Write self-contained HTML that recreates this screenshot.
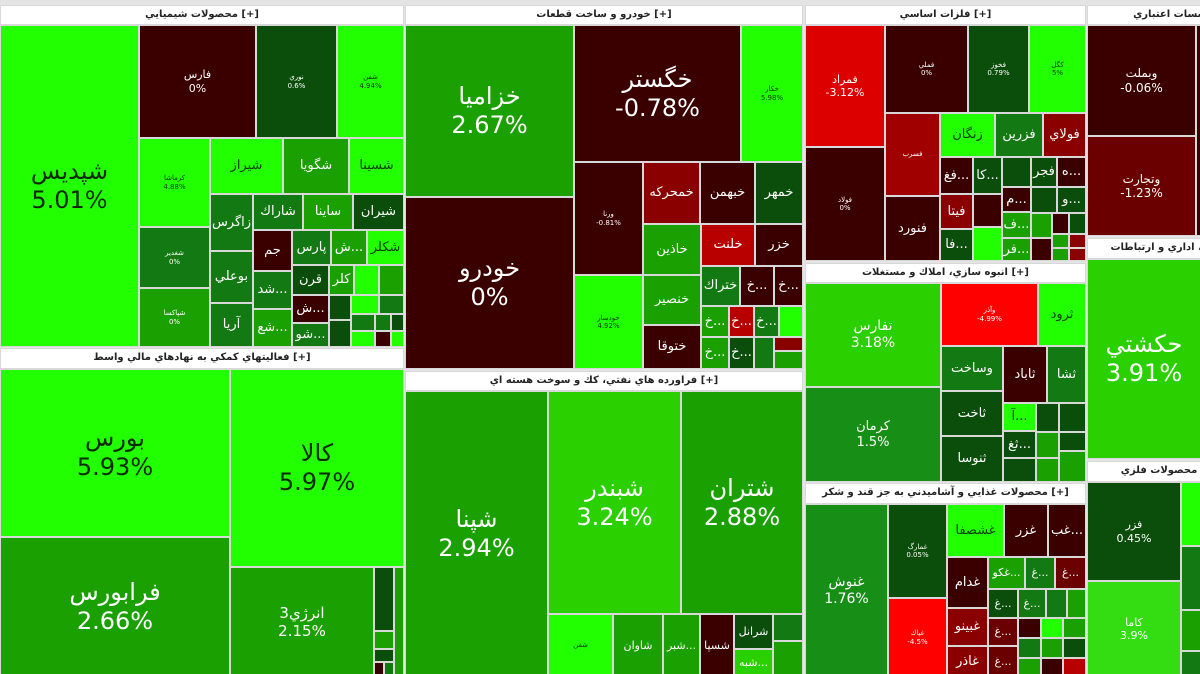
<!DOCTYPE html>
<html><head><meta charset="utf-8"><style>
html,body{margin:0;width:1200px;height:674px;overflow:hidden}
body{background:#e4e4e4;position:relative;font-family:"DejaVu Sans","Liberation Sans",sans-serif}
#w{position:absolute;left:0;top:0;width:1200px;height:674px;overflow:hidden}
.c{position:absolute;box-sizing:border-box;border:1px solid #d8d8d8;display:flex;flex-direction:column;align-items:center;justify-content:center;text-align:center;color:#fff;overflow:hidden;line-height:1.2;font-size:13px;white-space:nowrap}
.h{position:absolute;box-sizing:border-box;background:#fff;border:1px solid #d8d8d8;font-size:10px;color:#222;text-align:center;line-height:18px;overflow:hidden;white-space:nowrap;font-weight:bold}
.g1{background:#22ff00;color:#0b3a00}.g2{background:#2bd000}.g3{background:#1aa000}.g4{background:#137a13}.g5{background:#0b4d0b}
.m{background:#3a0000}.r1{background:#8a0000}.r2{background:#b80000}.r3{background:#f00000}.r4{background:#6a0000}
.L{font-size:24px}.S{font-size:7px}.M{font-size:11px}
</style></head><body><div id="w">
<!-- chemicals -->
<div class="h" style="left:0;top:5px;width:404px;height:20px">محصولات شيميايي [+]</div>
<div class="c g1 L" style="left:0;top:25px;width:139px;height:322px;color:#0b2a00">شپديس<br>5.01%</div>
<div class="c m M" style="left:139px;top:25px;width:117px;height:113px">فارس<br>0%</div>
<div class="c g5 S" style="left:256px;top:25px;width:81px;height:113px">نوري<br>0.6%</div>
<div class="c g1 S" style="left:337px;top:25px;width:67px;height:113px">شفن<br>4.94%</div>
<div class="c g1 S" style="left:139px;top:138px;width:71px;height:89px">كرماشا<br>4.88%</div>
<div class="c g1" style="left:210px;top:138px;width:73px;height:56px">شيراز</div>
<div class="c g3" style="left:283px;top:138px;width:66px;height:56px">شگويا</div>
<div class="c g1" style="left:349px;top:138px;width:55px;height:56px">شسينا</div>
<div class="c g4" style="left:210px;top:194px;width:43px;height:57px">زاگرس</div>
<div class="c g4" style="left:210px;top:251px;width:43px;height:52px">بوعلي</div>
<div class="c g4" style="left:210px;top:303px;width:43px;height:44px">آريا</div>
<div class="c g4" style="left:253px;top:194px;width:50px;height:36px">شاراك</div>
<div class="c g3" style="left:303px;top:194px;width:50px;height:36px">ساينا</div>
<div class="c g5" style="left:353px;top:194px;width:51px;height:36px">شيران</div>
<div class="c m" style="left:253px;top:230px;width:39px;height:41px">جم</div>
<div class="c g4" style="left:292px;top:230px;width:39px;height:35px">پارس</div>
<div class="c g3" style="left:331px;top:230px;width:36px;height:35px">ش...</div>
<div class="c g1" style="left:367px;top:230px;width:37px;height:35px">شكلر</div>
<div class="c g4" style="left:253px;top:271px;width:39px;height:38px">شد...</div>
<div class="c g3" style="left:253px;top:309px;width:39px;height:38px">شع...</div>
<div class="c g5" style="left:292px;top:265px;width:37px;height:30px">قرن</div>
<div class="c g3" style="left:329px;top:265px;width:25px;height:30px">كلر</div>
<div class="c g1" style="left:354px;top:265px;width:25px;height:30px"></div>
<div class="c g3" style="left:379px;top:265px;width:25px;height:30px"></div>
<div class="c m" style="left:292px;top:295px;width:37px;height:28px">ش...</div>
<div class="c g4" style="left:292px;top:323px;width:37px;height:24px">شو...</div>
<div class="c g5" style="left:329px;top:295px;width:22px;height:25px"></div>
<div class="c g5" style="left:329px;top:320px;width:22px;height:27px"></div>
<div class="c g1" style="left:351px;top:295px;width:28px;height:19px"></div>
<div class="c g4" style="left:379px;top:295px;width:25px;height:19px"></div>
<div class="c g4" style="left:351px;top:314px;width:24px;height:17px"></div>
<div class="c g4" style="left:375px;top:314px;width:16px;height:17px"></div>
<div class="c g5" style="left:391px;top:314px;width:13px;height:17px"></div>
<div class="c g1" style="left:351px;top:331px;width:24px;height:16px"></div>
<div class="c m" style="left:375px;top:331px;width:16px;height:16px"></div>
<div class="c g1" style="left:391px;top:331px;width:13px;height:16px"></div>
<div class="c g4 S" style="left:139px;top:227px;width:71px;height:61px">شغدير<br>0%</div>
<div class="c g3 S" style="left:139px;top:288px;width:71px;height:59px">شپاكسا<br>0%</div>
<!-- financial -->
<div class="h" style="left:0;top:348px;width:404px;height:21px">فعاليتهاي كمكي به نهادهاي مالي واسط [+]</div>
<div class="c g1 L" style="left:0;top:369px;width:230px;height:168px;color:#0b2a00">بورس<br>5.93%</div>
<div class="c g1 L" style="left:230px;top:369px;width:174px;height:198px;color:#0b2a00">كالا<br>5.97%</div>
<div class="c g3 L" style="left:0;top:537px;width:230px;height:140px">فرابورس<br>2.66%</div>
<div class="c g3" style="left:230px;top:567px;width:144px;height:110px;font-size:15px">انرژي3<br>2.15%</div>
<div class="c g5" style="left:374px;top:567px;width:20px;height:64px"></div>
<div class="c g3" style="left:374px;top:631px;width:20px;height:18px"></div>
<div class="c g5" style="left:374px;top:649px;width:20px;height:13px"></div>
<div class="c m" style="left:374px;top:662px;width:10px;height:15px"></div>
<div class="c g4" style="left:384px;top:662px;width:10px;height:15px"></div>
<div class="c g3" style="left:394px;top:567px;width:10px;height:110px"></div>
<!-- auto -->
<div class="h" style="left:405px;top:5px;width:398px;height:20px">خودرو و ساخت قطعات [+]</div>
<div class="c g3 L" style="left:405px;top:25px;width:169px;height:172px">خزاميا<br>2.67%</div>
<div class="c m L" style="left:405px;top:197px;width:169px;height:172px">خودرو<br>0%</div>
<div class="c m L" style="left:574px;top:25px;width:167px;height:137px">خگستر<br>-0.78%</div>
<div class="c g1 S" style="left:741px;top:25px;width:62px;height:137px">خكار<br>5.98%</div>
<div class="c m S" style="left:574px;top:162px;width:69px;height:113px">ورنا<br>-0.81%</div>
<div class="c g1 S" style="left:574px;top:275px;width:69px;height:94px">خودسار<br>4.92%</div>
<div class="c r1" style="left:643px;top:162px;width:57px;height:62px">خمحركه</div>
<div class="c m" style="left:700px;top:162px;width:55px;height:62px">خبهمن</div>
<div class="c g5" style="left:755px;top:162px;width:48px;height:62px">خمهر</div>
<div class="c g3" style="left:643px;top:224px;width:58px;height:51px">خاذين</div>
<div class="c r2" style="left:701px;top:224px;width:54px;height:42px">خلنت</div>
<div class="c m" style="left:755px;top:224px;width:48px;height:42px">خزر</div>
<div class="c g3" style="left:643px;top:275px;width:58px;height:50px">خنصير</div>
<div class="c m" style="left:643px;top:325px;width:58px;height:44px">ختوقا</div>
<div class="c g4" style="left:701px;top:266px;width:39px;height:40px">ختراك</div>
<div class="c m" style="left:740px;top:266px;width:34px;height:40px">خ...</div>
<div class="c m" style="left:774px;top:266px;width:29px;height:40px">خ...</div>
<div class="c g3" style="left:701px;top:306px;width:28px;height:31px">خ...</div>
<div class="c r2" style="left:729px;top:306px;width:25px;height:31px">خ...</div>
<div class="c g4" style="left:754px;top:306px;width:25px;height:31px">خ...</div>
<div class="c g1" style="left:779px;top:306px;width:24px;height:31px"></div>
<div class="c g3" style="left:701px;top:337px;width:28px;height:32px">خ...</div>
<div class="c g5" style="left:729px;top:337px;width:25px;height:32px">خ...</div>
<div class="c g4" style="left:754px;top:337px;width:20px;height:32px"></div>
<div class="c r1" style="left:774px;top:337px;width:29px;height:14px"></div>
<div class="c g3" style="left:774px;top:351px;width:29px;height:18px"></div>
<!-- oil -->
<div class="h" style="left:405px;top:371px;width:398px;height:20px">فراورده هاي نفتي، كك و سوخت هسته اي [+]</div>
<div class="c g3 L" style="left:405px;top:391px;width:143px;height:286px">شپنا<br>2.94%</div>
<div class="c g2 L" style="left:548px;top:391px;width:133px;height:223px">شبندر<br>3.24%</div>
<div class="c g3 L" style="left:681px;top:391px;width:122px;height:223px">شتران<br>2.88%</div>
<div class="c g1 S" style="left:548px;top:614px;width:65px;height:63px">شفن</div>
<div class="c g3 M" style="left:613px;top:614px;width:50px;height:63px">شاوان</div>
<div class="c g3 M" style="left:663px;top:614px;width:37px;height:63px">شبر...</div>
<div class="c m M" style="left:700px;top:614px;width:34px;height:63px">شسپا</div>
<div class="c g5 M" style="left:734px;top:614px;width:39px;height:35px">شرانل</div>
<div class="c g2 M" style="left:734px;top:649px;width:39px;height:28px">شبه...</div>
<div class="c g4" style="left:773px;top:614px;width:30px;height:27px"></div>
<div class="c g3" style="left:773px;top:641px;width:30px;height:36px"></div>
<!-- metals -->
<div class="h" style="left:805px;top:5px;width:281px;height:20px">فلزات اساسي [+]</div>
<div class="c r3 M" style="left:805px;top:25px;width:80px;height:122px;background:#dd0000">فمراد<br>-3.12%</div>
<div class="c m S" style="left:805px;top:147px;width:80px;height:114px">فولاد<br>0%</div>
<div class="c m S" style="left:885px;top:25px;width:83px;height:88px">فملي<br>0%</div>
<div class="c g5 S" style="left:968px;top:25px;width:61px;height:88px">فخوز<br>0.79%</div>
<div class="c g1 S" style="left:1029px;top:25px;width:57px;height:88px">كگل<br>5%</div>
<div class="c r1 S" style="left:885px;top:113px;width:55px;height:83px;background:#a00000">فسرب</div>
<div class="c m" style="left:885px;top:196px;width:55px;height:65px">فنورد</div>
<div class="c g1" style="left:940px;top:113px;width:55px;height:44px">زنگان</div>
<div class="c g4" style="left:995px;top:113px;width:48px;height:44px">فزرين</div>
<div class="c r1" style="left:1043px;top:113px;width:43px;height:44px">فولاي</div>
<div class="c m" style="left:940px;top:157px;width:33px;height:37px">فغ...</div>
<div class="c g5" style="left:973px;top:157px;width:29px;height:37px">كا...</div>
<div class="c g5" style="left:1002px;top:157px;width:29px;height:30px"></div>
<div class="c g5" style="left:1031px;top:157px;width:26px;height:30px">فجر</div>
<div class="c m" style="left:1057px;top:157px;width:29px;height:30px">ه...</div>
<div class="c r1" style="left:940px;top:194px;width:33px;height:35px">فيتا</div>
<div class="c g5" style="left:940px;top:229px;width:33px;height:32px">فا...</div>
<div class="c m" style="left:973px;top:194px;width:29px;height:33px"></div>
<div class="c g1" style="left:973px;top:227px;width:29px;height:34px"></div>
<div class="c m" style="left:1002px;top:187px;width:29px;height:25px">م...</div>
<div class="c g5" style="left:1031px;top:187px;width:26px;height:26px"></div>
<div class="c g5" style="left:1057px;top:187px;width:29px;height:26px">و...</div>
<div class="c g3" style="left:1002px;top:212px;width:29px;height:26px">ف...</div>
<div class="c g3" style="left:1002px;top:238px;width:29px;height:23px">فر...</div>
<div class="c g3" style="left:1031px;top:213px;width:21px;height:25px"></div>
<div class="c m" style="left:1031px;top:238px;width:21px;height:23px"></div>
<div class="c m" style="left:1052px;top:213px;width:17px;height:21px"></div>
<div class="c g5" style="left:1069px;top:213px;width:17px;height:21px"></div>
<div class="c g3" style="left:1052px;top:234px;width:17px;height:14px"></div>
<div class="c r1" style="left:1069px;top:234px;width:17px;height:14px"></div>
<div class="c g3" style="left:1052px;top:248px;width:17px;height:13px"></div>
<div class="c r1" style="left:1069px;top:248px;width:17px;height:13px"></div>
<!-- real estate -->
<div class="h" style="left:805px;top:263px;width:281px;height:20px">انبوه سازي، املاك و مستغلات [+]</div>
<div class="c g2" style="left:805px;top:283px;width:136px;height:104px;font-size:14px">تفارس<br>3.18%</div>
<div class="c g4" style="left:805px;top:387px;width:136px;height:95px;background:#178f17">كرمان<br>1.5%</div>
<div class="c r3 S" style="left:941px;top:283px;width:97px;height:63px;background:#ff0000">وآذر<br>-4.99%</div>
<div class="c g1" style="left:1038px;top:283px;width:48px;height:63px">ثرود</div>
<div class="c g4" style="left:941px;top:346px;width:62px;height:45px">وساخت</div>
<div class="c m" style="left:1003px;top:346px;width:44px;height:57px">ثاباد</div>
<div class="c g4" style="left:1047px;top:346px;width:39px;height:57px">ثشا</div>
<div class="c g5" style="left:941px;top:391px;width:62px;height:45px">ثاخت</div>
<div class="c g5" style="left:941px;top:436px;width:62px;height:46px">ثنوسا</div>
<div class="c g1" style="left:1003px;top:403px;width:33px;height:28px">آ...</div>
<div class="c g5" style="left:1003px;top:431px;width:33px;height:27px">ثغ...</div>
<div class="c g5" style="left:1003px;top:458px;width:33px;height:24px"></div>
<div class="c g5" style="left:1036px;top:403px;width:23px;height:29px"></div>
<div class="c g5" style="left:1059px;top:403px;width:27px;height:29px"></div>
<div class="c g3" style="left:1036px;top:432px;width:23px;height:26px"></div>
<div class="c g5" style="left:1059px;top:432px;width:27px;height:19px"></div>
<div class="c g3" style="left:1036px;top:458px;width:23px;height:24px"></div>
<div class="c g3" style="left:1059px;top:451px;width:27px;height:31px"></div>
<!-- food -->
<div class="h" style="left:805px;top:483px;width:281px;height:21px">محصولات غذايي و آشاميدني به جز قند و شكر [+]</div>
<div class="c g4" style="left:805px;top:504px;width:83px;height:173px;font-size:14px;background:#178f17">غنوش<br>1.76%</div>
<div class="c g5 S" style="left:888px;top:504px;width:59px;height:94px">غمارگ<br>0.05%</div>
<div class="c r3 S" style="left:888px;top:598px;width:59px;height:79px;background:#ff0000">غپاك<br>-4.5%</div>
<div class="c g1" style="left:947px;top:504px;width:57px;height:53px">غشصفا</div>
<div class="c m" style="left:1004px;top:504px;width:44px;height:53px">غزر</div>
<div class="c m" style="left:1048px;top:504px;width:38px;height:53px">غب...</div>
<div class="c m" style="left:947px;top:557px;width:41px;height:51px">غدام</div>
<div class="c r1" style="left:947px;top:608px;width:41px;height:38px">غبينو</div>
<div class="c r1" style="left:947px;top:646px;width:41px;height:31px">غاذر</div>
<div class="c g3 M" style="left:988px;top:557px;width:37px;height:32px">غكو...</div>
<div class="c g4 M" style="left:1025px;top:557px;width:30px;height:32px">غ...</div>
<div class="c r4 M" style="left:1055px;top:557px;width:31px;height:32px">غ...</div>
<div class="c g5 M" style="left:988px;top:589px;width:30px;height:29px">غ...</div>
<div class="c g4 M" style="left:1018px;top:589px;width:28px;height:29px">غ...</div>
<div class="c g4" style="left:1046px;top:589px;width:21px;height:29px"></div>
<div class="c g3" style="left:1067px;top:589px;width:19px;height:29px"></div>
<div class="c r4 M" style="left:988px;top:618px;width:30px;height:28px">غ...</div>
<div class="c r4 M" style="left:988px;top:646px;width:30px;height:31px">غ...</div>
<div class="c m" style="left:1018px;top:618px;width:23px;height:20px"></div>
<div class="c g1" style="left:1041px;top:618px;width:22px;height:20px"></div>
<div class="c g3" style="left:1063px;top:618px;width:23px;height:20px"></div>
<div class="c g4" style="left:1018px;top:638px;width:23px;height:20px"></div>
<div class="c g3" style="left:1041px;top:638px;width:22px;height:20px"></div>
<div class="c g5" style="left:1063px;top:638px;width:23px;height:20px"></div>
<div class="c g3" style="left:1018px;top:658px;width:23px;height:19px"></div>
<div class="c m" style="left:1041px;top:658px;width:22px;height:19px"></div>
<div class="c r2" style="left:1063px;top:658px;width:23px;height:19px"></div>
<!-- right column -->
<div class="h" style="left:1087px;top:5px;width:200px;height:20px">موسسات اعتباري [+]</div>
<div class="c m M" style="left:1087px;top:25px;width:109px;height:111px;font-size:12px">وبملت<br>-0.06%</div>
<div class="c r4 M" style="left:1087px;top:136px;width:109px;height:100px;font-size:12px">وتجارت<br>-1.23%</div>
<div class="c m" style="left:1196px;top:25px;width:10px;height:211px"></div>
<div class="h" style="left:1087px;top:238px;width:200px;height:21px">مخابرات، اداري و ارتباطات [+]</div>
<div class="c g2 L" style="left:1087px;top:259px;width:200px;height:200px;padding-right:86px">حكشتي<br>3.91%</div>
<div class="h" style="left:1087px;top:461px;width:200px;height:21px">ساخت محصولات فلزي [+]</div>
<div class="c g5 M" style="left:1087px;top:482px;width:94px;height:99px">فزر<br>0.45%</div>
<div class="c g2 M" style="left:1087px;top:581px;width:94px;height:96px;background:#33dd11">كاما<br>3.9%</div>
<div class="c g1" style="left:1181px;top:482px;width:25px;height:64px"></div>
<div class="c g4" style="left:1181px;top:546px;width:25px;height:64px"></div>
<div class="c g3" style="left:1181px;top:610px;width:25px;height:41px"></div>
<div class="c g4" style="left:1181px;top:651px;width:25px;height:26px"></div>
</div></body></html>
